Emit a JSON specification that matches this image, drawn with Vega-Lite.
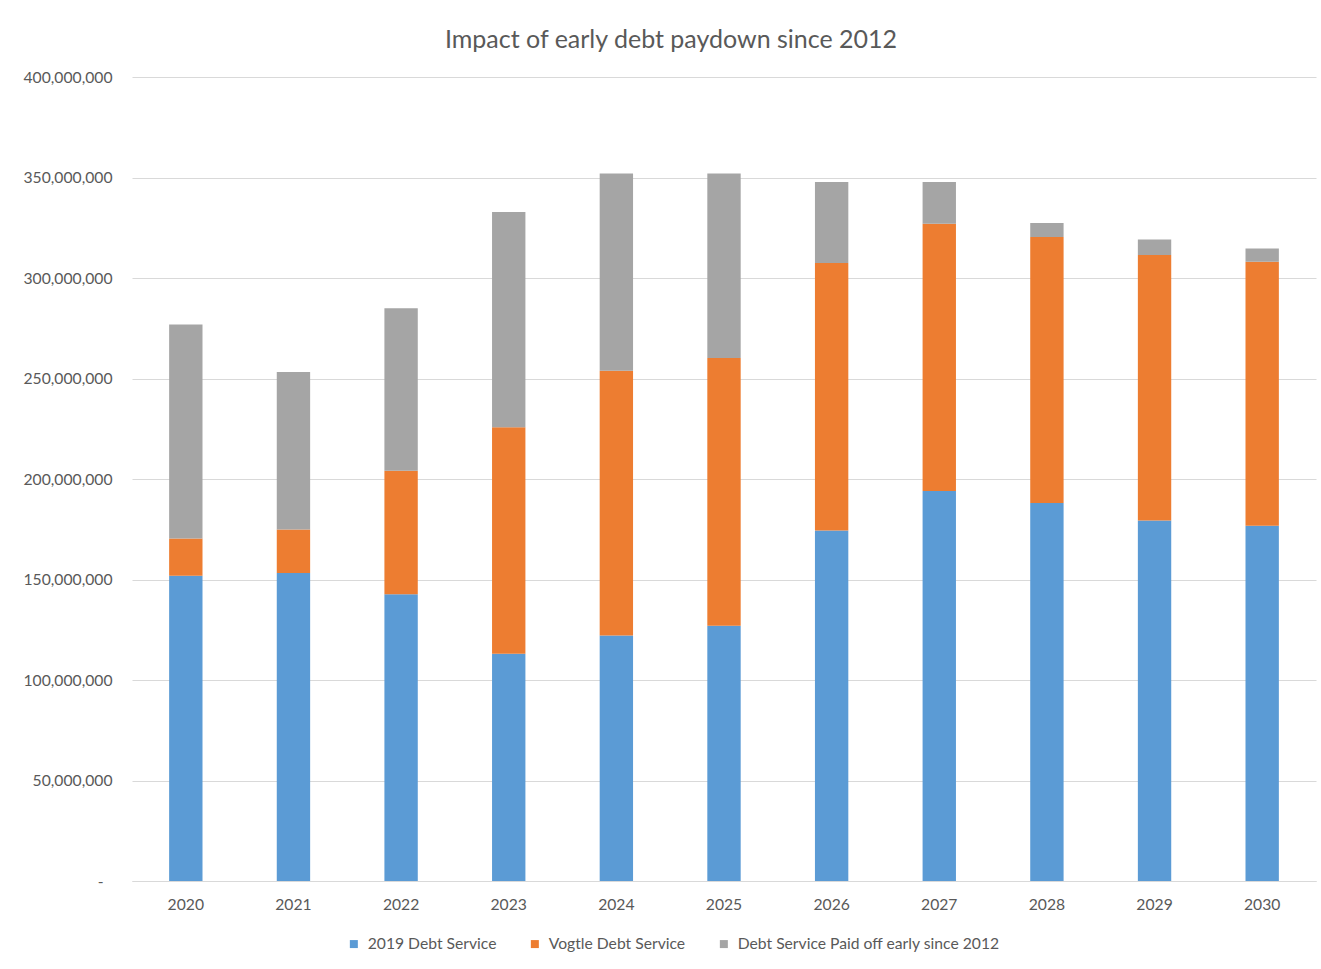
{
  "$schema": "https://vega.github.io/schema/vega-lite/v6.json",
  "autosize": {"type": "none"},
  "width": 1184,
  "height": 804,
  "padding": {"left": 132, "top": 77, "right": 5, "bottom": 88},
  "background": "#ffffff",
  "title": {
    "text": "Impact of early debt paydown since 2012",
    "anchor": "middle",
    "dx": -53,
    "offset": 16,
    "font": "Lato",
    "fontSize": 25,
    "fontWeight": "normal",
    "color": "#595959"
  },
  "data": {
    "values": [
      {"year": "2020", "series": "2019 Debt Service", "value": 151900000},
      {"year": "2020", "series": "Vogtle Debt Service", "value": 18500000},
      {"year": "2020", "series": "Debt Service Paid off early since 2012", "value": 106500000},
      {"year": "2021", "series": "2019 Debt Service", "value": 153200000},
      {"year": "2021", "series": "Vogtle Debt Service", "value": 21700000},
      {"year": "2021", "series": "Debt Service Paid off early since 2012", "value": 78300000},
      {"year": "2022", "series": "2019 Debt Service", "value": 142600000},
      {"year": "2022", "series": "Vogtle Debt Service", "value": 61500000},
      {"year": "2022", "series": "Debt Service Paid off early since 2012", "value": 80800000},
      {"year": "2023", "series": "2019 Debt Service", "value": 113100000},
      {"year": "2023", "series": "Vogtle Debt Service", "value": 112600000},
      {"year": "2023", "series": "Debt Service Paid off early since 2012", "value": 107100000},
      {"year": "2024", "series": "2019 Debt Service", "value": 122100000},
      {"year": "2024", "series": "Vogtle Debt Service", "value": 131800000},
      {"year": "2024", "series": "Debt Service Paid off early since 2012", "value": 98100000},
      {"year": "2025", "series": "2019 Debt Service", "value": 127000000},
      {"year": "2025", "series": "Vogtle Debt Service", "value": 133200000},
      {"year": "2025", "series": "Debt Service Paid off early since 2012", "value": 91800000},
      {"year": "2026", "series": "2019 Debt Service", "value": 174400000},
      {"year": "2026", "series": "Vogtle Debt Service", "value": 133100000},
      {"year": "2026", "series": "Debt Service Paid off early since 2012", "value": 40300000},
      {"year": "2027", "series": "2019 Debt Service", "value": 194000000},
      {"year": "2027", "series": "Vogtle Debt Service", "value": 133000000},
      {"year": "2027", "series": "Debt Service Paid off early since 2012", "value": 20800000},
      {"year": "2028", "series": "2019 Debt Service", "value": 188000000},
      {"year": "2028", "series": "Vogtle Debt Service", "value": 132400000},
      {"year": "2028", "series": "Debt Service Paid off early since 2012", "value": 7000000},
      {"year": "2029", "series": "2019 Debt Service", "value": 179300000},
      {"year": "2029", "series": "Vogtle Debt Service", "value": 132100000},
      {"year": "2029", "series": "Debt Service Paid off early since 2012", "value": 7700000},
      {"year": "2030", "series": "2019 Debt Service", "value": 176800000},
      {"year": "2030", "series": "Vogtle Debt Service", "value": 131300000},
      {"year": "2030", "series": "Debt Service Paid off early since 2012", "value": 6600000}
    ]
  },
  "transform": [
    {"calculate": "indexof(['2019 Debt Service', 'Vogtle Debt Service', 'Debt Service Paid off early since 2012'], datum.series)", "as": "stackOrder"}
  ],
  "mark": {"type": "bar"},
  "encoding": {
    "x": {
      "field": "year",
      "type": "ordinal",
      "scale": {"paddingInner": 0.69, "paddingOuter": 0.345},
      "axis": {
        "title": null,
        "labelAngle": 0,
        "ticks": false,
        "domain": true,
        "domainColor": "#d9d9d9",
        "domainWidth": 1,
        "labelPadding": 16,
        "labelFont": "Lato",
        "labelFontSize": 15.7,
        "labelColor": "#595959"
      }
    },
    "y": {
      "field": "value",
      "type": "quantitative",
      "stack": "zero",
      "scale": {"domain": [0, 400000000], "nice": false},
      "axis": {
        "title": null,
        "values": [0, 50000000, 100000000, 150000000, 200000000, 250000000, 300000000, 350000000, 400000000],
        "labelExpr": "datum.value === 0 ? '-' : format(datum.value, ',')",
        "ticks": false,
        "domain": false,
        "grid": true,
        "gridColor": "#d9d9d9",
        "gridWidth": 1,
        "labelPadding": {"condition": {"test": "datum.value === 0", "value": 29}, "value": 20},
        "labelFont": "Lato",
        "labelFontSize": 15.7,
        "labelColor": "#595959"
      }
    },
    "color": {
      "field": "series",
      "type": "nominal",
      "scale": {
        "domain": ["2019 Debt Service", "Vogtle Debt Service", "Debt Service Paid off early since 2012"],
        "range": ["#5b9bd5", "#ed7d31", "#a5a5a5"]
      },
      "legend": {
        "title": null,
        "orient": "none",
        "direction": "horizontal",
        "legendX": 214,
        "legendY": 859,
        "symbolType": "square",
        "symbolSize": 64,
        "symbolStrokeWidth": 0,
        "labelOffset": 6,
        "columnPadding": 30,
        "labelFont": "Lato",
        "labelFontSize": 15.7,
        "labelColor": "#595959",
        "labelLimit": 400
      }
    },
    "order": {"field": "stackOrder", "type": "quantitative", "sort": "ascending"}
  },
  "config": {
    "view": {"stroke": null},
    "axisY": {"labelBound": false}
  }
}
